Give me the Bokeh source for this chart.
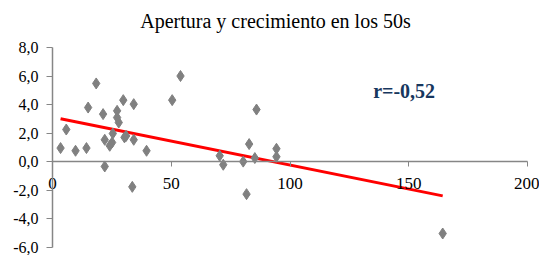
from bokeh.plotting import figure
from bokeh.models import (ColumnDataSource, Label, CustomJSTickFormatter, FixedTicker,
                          Range1d, LinearAxis)
from bokeh.embed import file_html
from bokeh.resources import INLINE

# Data
apertura = [3.4, 5.8, 9.7, 14.3, 15.0, 18.4, 21.3, 22.0, 22.0, 24.1, 25.1, 25.4,
            27.2, 27.2, 27.9, 29.8, 30.3, 31.0, 34.2, 34.2, 33.6, 39.6, 50.4, 53.9,
            70.4, 71.9, 80.3, 82.8, 85.9, 85.2, 81.7, 94.3, 94.3, 164.3]
crecimiento = [0.95, 2.25, 0.76, 0.95, 3.79, 5.48, 3.33, 1.53, -0.34, 1.11, 1.34, 1.97,
               3.56, 3.09, 2.74, 4.31, 1.70, 1.80, 4.03, 1.53, -1.77, 0.76, 4.31, 6.0,
               0.41, -0.22, 0.0, 1.23, 3.65, 0.25, -2.28, 0.9, 0.34, -5.04]
trend_x = [3.4, 164.3]
trend_y = [3.0, -2.4]
x_ticks = [0, 50, 100, 150, 200]
y_ticks = [-6, -4, -2, 0, 2, 4, 6, 8]
title_text = "Apertura y crecimiento en los 50s"
r_text = "r=-0,52"

FONT = "Liberation Serif"
W, H = 539, 255
# pixel placement of the axes box (layout only)
X0_PX, X1_PX = 52.0, 527.0
Y_TOP_PX, Y_BOT_PX = 47.0, 246.7
xs = (X1_PX - X0_PX) / 200.0
ys = (Y_BOT_PX - Y_TOP_PX) / 14.0

p = figure(width=W, height=H, output_backend="svg", toolbar_location=None,
           x_range=Range1d(0 - X0_PX / xs, 200 + (W - X1_PX) / xs),
           y_range=Range1d(-6 - (H - Y_BOT_PX) / ys, 8 + Y_TOP_PX / ys),
           x_axis_location=None, y_axis_location=None,
           min_border_left=0, min_border_right=0, min_border_top=0, min_border_bottom=0)
p.outline_line_color = None
p.xgrid.visible = False
p.ygrid.visible = False

axis_color = "#868686"

xaxis = LinearAxis(fixed_location=0, bounds=(0, 200), ticker=FixedTicker(ticks=x_ticks))
xaxis.axis_line_color = axis_color
xaxis.axis_line_width = 1.5
xaxis.major_tick_line_color = axis_color
xaxis.major_tick_in = 0
xaxis.major_tick_out = 5
xaxis.minor_tick_line_color = None
xaxis.major_label_text_font = FONT
xaxis.major_label_text_font_size = "17px"
xaxis.major_label_text_color = "#000000"
xaxis.major_label_standoff = 11
p.add_layout(xaxis, "below")

yaxis = LinearAxis(fixed_location=0, bounds=(-6, 8), ticker=FixedTicker(ticks=y_ticks))
yaxis.formatter = CustomJSTickFormatter(code="return tick.toFixed(1).replace('.', ',');")
yaxis.axis_line_color = axis_color
yaxis.axis_line_width = 1.5
yaxis.major_tick_line_color = axis_color
yaxis.major_tick_in = 0
yaxis.major_tick_out = 6
yaxis.minor_tick_line_color = None
yaxis.major_label_text_font = FONT
yaxis.major_label_text_font_size = "16px"
yaxis.major_label_text_color = "#000000"
yaxis.major_label_standoff = 8
p.add_layout(yaxis, "left")

src = ColumnDataSource(dict(x=apertura, y=crecimiento))
p.line(trend_x, trend_y, line_color="#FF0000", line_width=3)
p.scatter("x", "y", source=src, marker="diamond", size=11,
          fill_color="#808080", line_color="#808080")

p.add_layout(Label(x=(275 - X0_PX) / xs, y=8 + (Y_TOP_PX - 20) / ys, text=title_text,
                   text_font=FONT, text_font_size="20px", text_color="#000000",
                   text_align="center", text_baseline="alphabetic"))

p.add_layout(Label(x=135, y=4.94, text=r_text, text_font=FONT, text_font_size="20px",
                   text_font_style="bold", text_color="#17375E", text_baseline="middle"))

open("out.html", "w").write(file_html(p, INLINE))
